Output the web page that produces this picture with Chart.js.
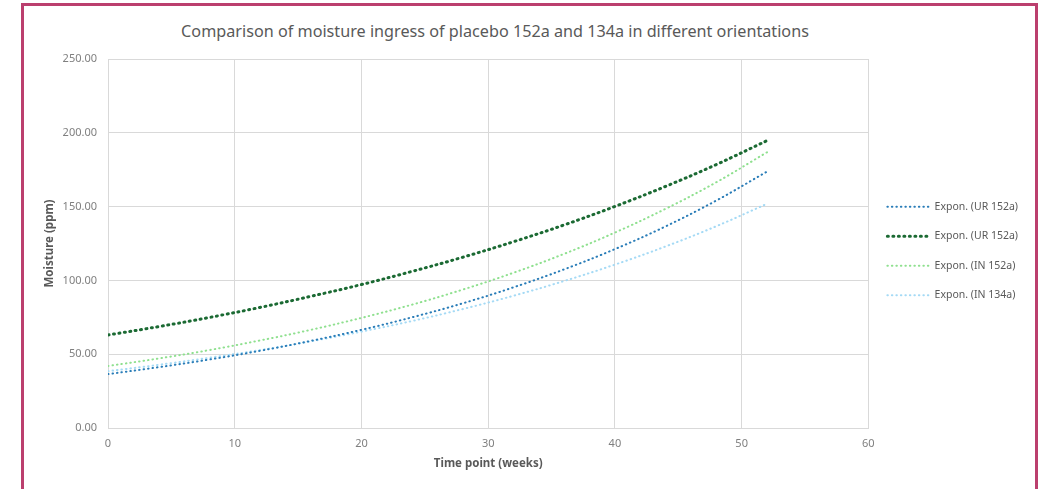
<!DOCTYPE html>
<html lang="en">
<head>
    <meta charset="UTF-8">
    <title>Moisture ingress</title>
    <script src="https://cdn.jsdelivr.net/npm/chart.js@4.4.1/dist/chart.umd.min.js"></script>
    <style>
        html, body { margin: 0; padding: 0; background: #ffffff; }
        body { width: 1043px; height: 489px; position: relative; overflow: hidden; font-family: "Noto Sans", sans-serif; }
        .frame {
            position: absolute; left: 21px; top: 3px; width: 1017px; height: 500px;
            border: 3.5px solid #bb3f6e; border-bottom: none; box-sizing: border-box;
        }
        .title {
            position: absolute; left: 0; width: 990px; top: 20px; text-align: center;
            font-size: 16.2px; color: #595959;
        }
        .chart-box { position: absolute; left: 25px; top: 6px; width: 1009px; height: 483px; }
    </style>
</head>
<body>
    <div class="frame"></div>
    <div class="title">Comparison of moisture ingress of placebo 152a and 134a in different orientations</div>
    <div class="chart-box"><canvas id="myChart"></canvas></div>

    <script>
        var weeks = [0, 4, 8, 12, 16, 20, 24, 28, 32, 36, 40, 44, 48, 52];

        var seriesNames = ["Expon. (UR 152a)", "Expon. (UR 152a)", "Expon. (IN 152a)", "Expon. (IN 134a)"];
        var urBlue   = [36.5, 41.2, 46.4, 52.3, 59.0, 66.5, 75.0, 84.5, 95.3, 107.5, 121.2, 136.6, 154.1, 173.7];
        var urGreen  = [63.0, 68.7, 74.9, 81.7, 89.2, 97.2, 106.1, 115.7, 126.2, 137.6, 150.1, 163.7, 178.5, 194.7];
        var in152a   = [42.0, 47.1, 52.8, 59.3, 66.5, 74.6, 83.6, 93.8, 105.2, 118.0, 132.4, 148.5, 166.5, 186.8];
        var in134a   = [38.5, 42.8, 47.6, 52.8, 58.7, 65.3, 72.5, 80.6, 89.6, 99.6, 110.7, 123.0, 136.7, 151.9];

        var yTicks = [0, 50, 100, 150, 200, 250];
        var xTicks = [0, 10, 20, 30, 40, 50, 60];

        function pts(vals) {
            return vals.map(function (v, i) { return { x: weeks[i], y: v }; });
        }

        function line(label, vals, color, width, dash) {
            return {
                label: label,
                data: pts(vals),
                borderColor: color,
                backgroundColor: 'rgba(0,0,0,0)',
                borderWidth: width,
                borderDash: dash,
                borderCapStyle: 'round',
                pointRadius: 0,
                tension: 0.4,
                fill: false
            };
        }

        var tickFont = { family: "Noto Sans", size: 11 };
        var axisTitleFont = { family: "Noto Sans", size: 11.5, weight: 'bold' };

        var ctx = document.getElementById("myChart").getContext("2d");
        var myChart = new Chart(ctx, {
            type: 'line',
            data: {
                datasets: [
                    line(seriesNames[0], urBlue, '#2a7db8', 2, [0.5, 4]),
                    line(seriesNames[1], urGreen, '#1b6a33', 3, [1, 4.5]),
                    line(seriesNames[2], in152a, '#8fe08f', 2, [0.5, 4]),
                    line(seriesNames[3], in134a, '#a5daf5', 2, [0.5, 4])
                ]
            },
            options: {
                responsive: true,
                maintainAspectRatio: false,
                animation: false,
                layout: { padding: { top: 53, right: 6, left: 0, bottom: 0 } },
                plugins: {
                    tooltip: { enabled: false },
                    title: { display: false },
                    legend: {
                        position: 'right',
                        fullSize: false,
                        // blank legend title just nudges the entries down a little
                        title: { display: true, text: ' ', padding: 0, font: { size: 12.5 } },
                        labels: {
                            usePointStyle: true,
                            pointStyle: 'line',
                            pointStyleWidth: 42,
                            padding: 19,
                            color: '#595959',
                            font: { family: "Noto Sans", size: 10.5 },
                            generateLabels: function (chart) {
                                var items = Chart.defaults.plugins.legend.labels.generateLabels(chart);
                                items.forEach(function (it) {
                                    var ds = chart.data.datasets[it.datasetIndex];
                                    it.lineDash = ds.borderDash;
                                    it.lineCap = 'round';
                                    it.lineWidth = ds.borderWidth;
                                    it.strokeStyle = ds.borderColor;
                                });
                                return items;
                            }
                        }
                    }
                },
                scales: {
                    x: {
                        type: 'linear',
                        min: 0,
                        max: 60,
                        afterBuildTicks: function (s) { s.ticks = xTicks.map(function (v) { return { value: v }; }); },
                        afterFit: function (s) { s.height = 61; },
                        grid: { color: '#d9d9d9', drawTicks: false },
                        border: { color: '#d9d9d9' },
                        ticks: { padding: 9, color: '#7f7f7f', font: tickFont },
                        title: {
                            display: true,
                            text: 'Time point (weeks)',
                            color: '#595959',
                            font: axisTitleFont,
                            padding: { top: 0, bottom: 18 }
                        }
                    },
                    y: {
                        min: 0,
                        max: 250,
                        afterBuildTicks: function (s) { s.ticks = yTicks.map(function (v) { return { value: v }; }); },
                        afterFit: function (s) { s.width = 83; },
                        grid: { color: '#d9d9d9', drawTicks: false },
                        border: { color: '#d9d9d9' },
                        ticks: {
                            padding: 11,
                            color: '#7f7f7f',
                            font: tickFont,
                            callback: function (v) { return Number(v).toFixed(2); }
                        },
                        title: {
                            display: true,
                            text: 'Moisture (ppm)',
                            color: '#595959',
                            font: axisTitleFont,
                            padding: { top: 18, bottom: 0 }
                        }
                    }
                }
            }
        });
    </script>
</body>
</html>
